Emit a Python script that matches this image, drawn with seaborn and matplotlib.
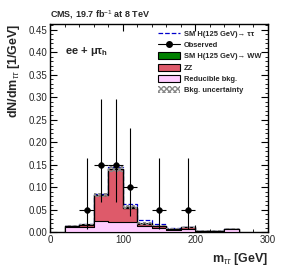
import numpy as np
import pandas as pd
import matplotlib
matplotlib.use("Agg")
import matplotlib.pyplot as plt
import seaborn as sns
from matplotlib.patches import Patch
from matplotlib.lines import Line2D
from matplotlib.ticker import MultipleLocator, FixedLocator

sns.set_theme(style="ticks")
plt.rcParams['font.family'] = ['Liberation Sans', 'DejaVu Sans']
plt.rcParams['mathtext.fontset'] = 'custom'
plt.rcParams['mathtext.rm'] = 'Liberation Sans'
plt.rcParams['mathtext.it'] = 'Liberation Sans:italic'
plt.rcParams['mathtext.bf'] = 'Liberation Sans:bold'

# ---- data ----
bin_edges = [20, 40, 60, 80, 100, 120, 140, 160, 180, 200, 220, 240, 260]
reducible = [0.012, 0.012, 0.025, 0.024, 0.022, 0.013, 0.010, 0.006, 0.008, 0.003, 0.003, 0.007]
zz        = [0.003, 0.005, 0.057, 0.116, 0.033, 0.006, 0.004, 0.002, 0.003, 0.001, 0.001, 0.001]
hww       = [0.000, 0.0005, 0.001, 0.001, 0.001, 0.001, 0.001, 0.000, 0.000, 0.000, 0.000, 0.000]
htautau   = [0.000, 0.001, 0.003, 0.003, 0.007, 0.008, 0.004, 0.001, 0.001, 0.000, 0.000, 0.000]
bkg_unc   = [0.002, 0.002, 0.005, 0.006, 0.004, 0.003, 0.002, 0.001, 0.001, 0.001, 0.001, 0.001]

obs_x   = [50, 70, 90, 110, 150, 190]
obs_y   = [0.05, 0.15, 0.15, 0.10, 0.05, 0.05]
obs_dlo = [0.0415, 0.082, 0.082, 0.064, 0.0415, 0.0415]
obs_dhi = [0.115, 0.146, 0.146, 0.132, 0.115, 0.115]
obs_xerr = [10, 10, 10, 10, 10, 10]

y_ticks = [0.00, 0.05, 0.10, 0.15, 0.20, 0.25, 0.30, 0.35, 0.40, 0.45]
y_ticklabels = ["0.00", "0.05", "0.10", "0.15", "0.20", "0.25", "0.30", "0.35", "0.40", "0.45"]

edges = np.array(bin_edges, dtype=float)
centers = 0.5 * (edges[:-1] + edges[1:])
red = np.array(reducible)
tot_zz = red + np.array(zz)
tot_ww = tot_zz + np.array(hww)
tot_sig = tot_ww + np.array(htautau)
unc = np.array(bkg_unc)

fig = plt.figure(figsize=(2.83, 2.74), dpi=100)
ax = fig.add_axes([0.178, 0.152, 0.769, 0.760])

df = pd.DataFrame({"x": centers, "sig": tot_sig, "ww": tot_ww, "zz": tot_zz, "red": red})
bins_list = list(bin_edges)

# signal dashed line (top of stack + H->tautau)
sns.histplot(data=df, x="x", weights="sig", bins=bins_list, element="step", fill=False,
             color="#0000cc", linestyle="--", linewidth=0.9, ax=ax, zorder=2)
# HWW layer
sns.histplot(data=df, x="x", weights="ww", bins=bins_list, element="step", fill=True,
             color="#008000", alpha=1, edgecolor="black", linewidth=0.8, ax=ax, zorder=3)
# ZZ layer
sns.histplot(data=df, x="x", weights="zz", bins=bins_list, element="step", fill=True,
             color="#de5a6a", alpha=1, edgecolor="black", linewidth=1.0, ax=ax, zorder=4)
# reducible layer
sns.histplot(data=df, x="x", weights="red", bins=bins_list, element="step", fill=True,
             color="#ffccff", alpha=1, edgecolor="black", linewidth=0.8, ax=ax, zorder=5)

# uncertainty band
lo = np.append(tot_ww - unc, (tot_ww - unc)[-1])
hi = np.append(tot_ww + unc, (tot_ww + unc)[-1])
ax.fill_between(edges, lo, hi, step="post", facecolor="none", edgecolor="#888888",
                hatch="xxxxxx", linewidth=0, zorder=6)

# observed
ax.errorbar(obs_x, obs_y, yerr=[obs_dlo, obs_dhi], xerr=obs_xerr, fmt="none",
            ecolor="black", elinewidth=0.8, capsize=0, zorder=7)
sns.scatterplot(x=obs_x, y=obs_y, color="black", s=18, edgecolor="black", linewidth=0.3,
                ax=ax, zorder=8)

ax.set_xlim(0, 300)
ax.set_ylim(0, 0.462)
ax.xaxis.set_major_locator(MultipleLocator(100))
ax.yaxis.set_major_locator(FixedLocator(y_ticks))
ax.set_yticklabels(y_ticklabels)
ax.xaxis.set_minor_locator(MultipleLocator(20))
ax.yaxis.set_minor_locator(MultipleLocator(0.01))
ax.tick_params(which="both", direction="in", top=True, right=True, labelsize=7, pad=2,
               color="black")
ax.tick_params(which="major", length=5, width=0.8)
ax.tick_params(which="minor", length=2.5, width=0.6)
for s in ax.spines.values():
    s.set_linewidth(1.0)
    s.set_color("black")

ax.set_xlabel("")
ax.set_ylabel("")
fig.text(0.947, 0.025, r"m$_{\tau\tau}$ [GeV]", ha="right", va="bottom",
         fontsize=9, fontweight="bold")
fig.text(0.02, 0.915, r"dN/dm$_{\tau\tau}$ [1/GeV]", rotation=90, ha="left", va="top",
         fontsize=9, fontweight="bold")
fig.text(0.178, 0.925, r"CMS, 19.7 fb$^{-1}$ at 8 TeV", ha="left", va="bottom",
         fontsize=6.5, fontweight="bold")
ax.text(0.065, 0.87, "ee + μτ$_{\\mathbf{h}}$", transform=ax.transAxes,
        fontsize=8, fontweight="bold", ha="left", va="center")

handles = [
    Line2D([], [], color="#0000cc", linestyle="--", linewidth=0.9),
    Line2D([], [], color="black", marker="o", markersize=4, linewidth=0.8),
    Patch(facecolor="#008000", edgecolor="black", linewidth=0.8),
    Patch(facecolor="#de5a6a", edgecolor="black", linewidth=0.8),
    Patch(facecolor="#ffccff", edgecolor="black", linewidth=0.8),
    Patch(facecolor="white", edgecolor="#888888", hatch="xxxxxx", linewidth=0),
]
labels = ["SM H(125 GeV)→ ττ", "Observed",
          "SM H(125 GeV)→ WW", "ZZ", "Reducible bkg.", "Bkg. uncertainty"]
leg = ax.legend(handles, labels, loc="upper left", bbox_to_anchor=(0.475, 0.995),
                frameon=False, fontsize=5.4, handlelength=2.9, handleheight=1.1,
                labelspacing=0.42, handletextpad=0.5, borderaxespad=0.2)
for t in leg.get_texts():
    t.set_fontweight("bold")

fig.savefig("out.png", dpi=100)
